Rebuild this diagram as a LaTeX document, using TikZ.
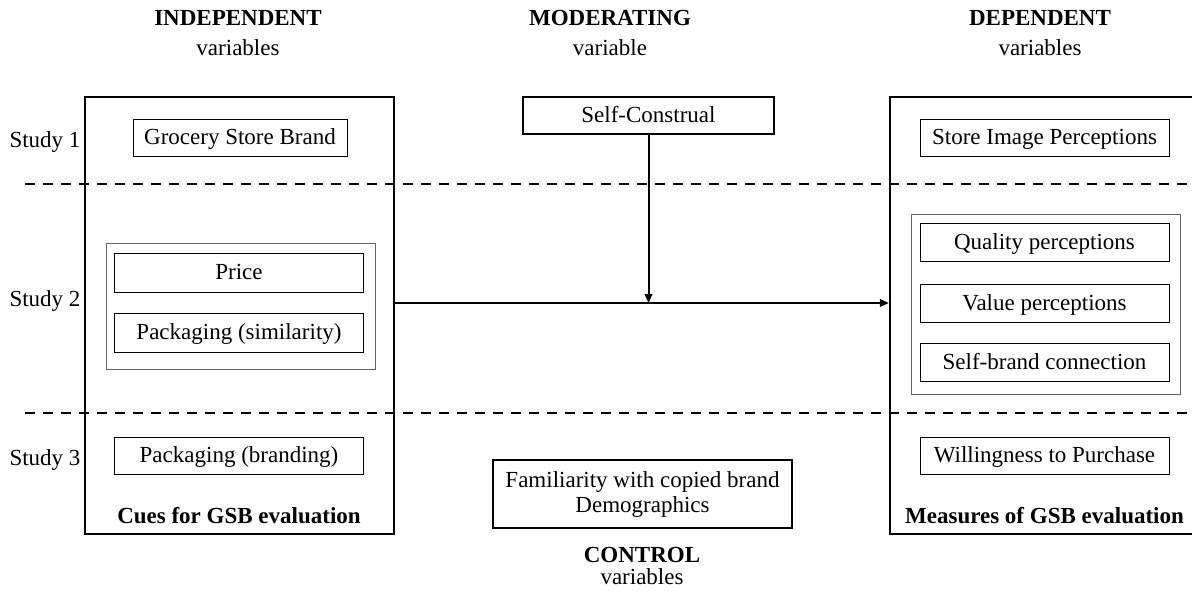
\documentclass[tikz,border=0pt]{standalone}
\usepackage{fontspec}
\setmainfont{Liberation Serif}
\usetikzlibrary{arrows.meta}
\begin{document}
\begin{tikzpicture}[x=0.5pt,y=-0.5pt,
  font=\fontsize{11.5pt}{14pt}\selectfont,
  item/.style={draw,line width=0.5pt,minimum width=124.5pt,minimum height=18.5pt,inner sep=0pt,
    text height=8.4pt,text depth=1pt},
  group/.style={draw=black!60,line width=0.5pt,inner sep=0pt},
  frame/.style={draw,line width=1pt,inner sep=0pt},
  bigbox/.style={draw,line width=1.1pt,inner sep=0pt,minimum width=154.5pt,minimum height=218.5pt},
  divider/.style={line width=1.2pt,dash pattern=on 5pt off 4pt},
  link/.style={line width=1pt,-{Triangle[length=4.5pt,width=3.8pt]}},
  head/.style={font=\fontsize{11.5pt}{14pt}\selectfont\bfseries},
  lab/.style={inner sep=0pt}]
\useasboundingbox (0,0) rectangle (1192,595);

% column headings
\node[head] (hind) at (238,18) {INDEPENDENT};
\node (hindv) at (238,48) {variables};
\node[head] (hmod) at (610,18) {MODERATING};
\node (hmodv) at (610,48) {variable};
\node[head] (hdep) at (1040,18) {DEPENDENT};
\node (hdepv) at (1040,48) {variables};

% outer frames
\node[bigbox] (leftbox) at (239.5,315.5) {};
\node[bigbox] (rightbox) at (1044.5,315.5) {};

% study separators
\draw[divider] (25,184) -- (1192,184);
\draw[divider] (25,413) -- (1192,413);

% study labels
\node (s1) at (45,142) {Study 1};
\node (s2) at (45,301) {Study 2};
\node (s3) at (45,460) {Study 3};

% independent variables
\node[item,minimum width=107pt] (gsb) at (240,137.5) {Grocery Store Brand};
\node[group,minimum width=134.5pt,minimum height=63pt] (grpl) at (240.5,306) {};
\node[item,minimum height=19.5pt] (price) at (239,272.5) {Price};
\node[item,minimum height=19.5pt] (pkgsim) at (239,332.5) {Packaging (similarity)};
\node[item] (pkgbr) at (239,455.5) {Packaging (branding)};
\node[head] (cues) at (239,516) {Cues for GSB evaluation};

% dependent variables
\node[item] (store) at (1044.5,137.5) {Store Image Perceptions};
\node[group,minimum width=134.5pt,minimum height=90pt] (grpr) at (1045.5,304) {};
\node[item,minimum height=19pt] (qual) at (1044.5,242.5) {Quality perceptions};
\node[item,minimum height=19pt] (val) at (1044.5,303) {Value perceptions};
\node[item,minimum height=19pt] (sbc) at (1044.5,362) {Self-brand connection};
\node[item] (will) at (1044.5,455.5) {Willingness to Purchase};
\node[head] (meas) at (1044.5,516) {Measures of GSB evaluation};

% moderator and controls
\node[frame,minimum width=125.5pt,minimum height=18.5pt,text height=8.4pt,text depth=1pt]
  (selfc) at (648.5,115.5) {Self-Construal};
\node[frame,minimum width=149.5pt,minimum height=34pt,align=center] (ctrl) at (642.5,494)
  {\raisebox{1.5pt}{Familiarity with copied brand}\\[-1.5pt]\raisebox{1.5pt}{Demographics}};
\node[head] (hctl) at (642,555) {CONTROL};
\node (hctlv) at (642,577) {variables};

% effects
\coordinate (mid) at (648.5,303);
\draw[link] (mid -| leftbox.east) -- (mid -| rightbox.west);
\draw[link] (selfc.south) -- (mid);
\end{tikzpicture}
\end{document}
